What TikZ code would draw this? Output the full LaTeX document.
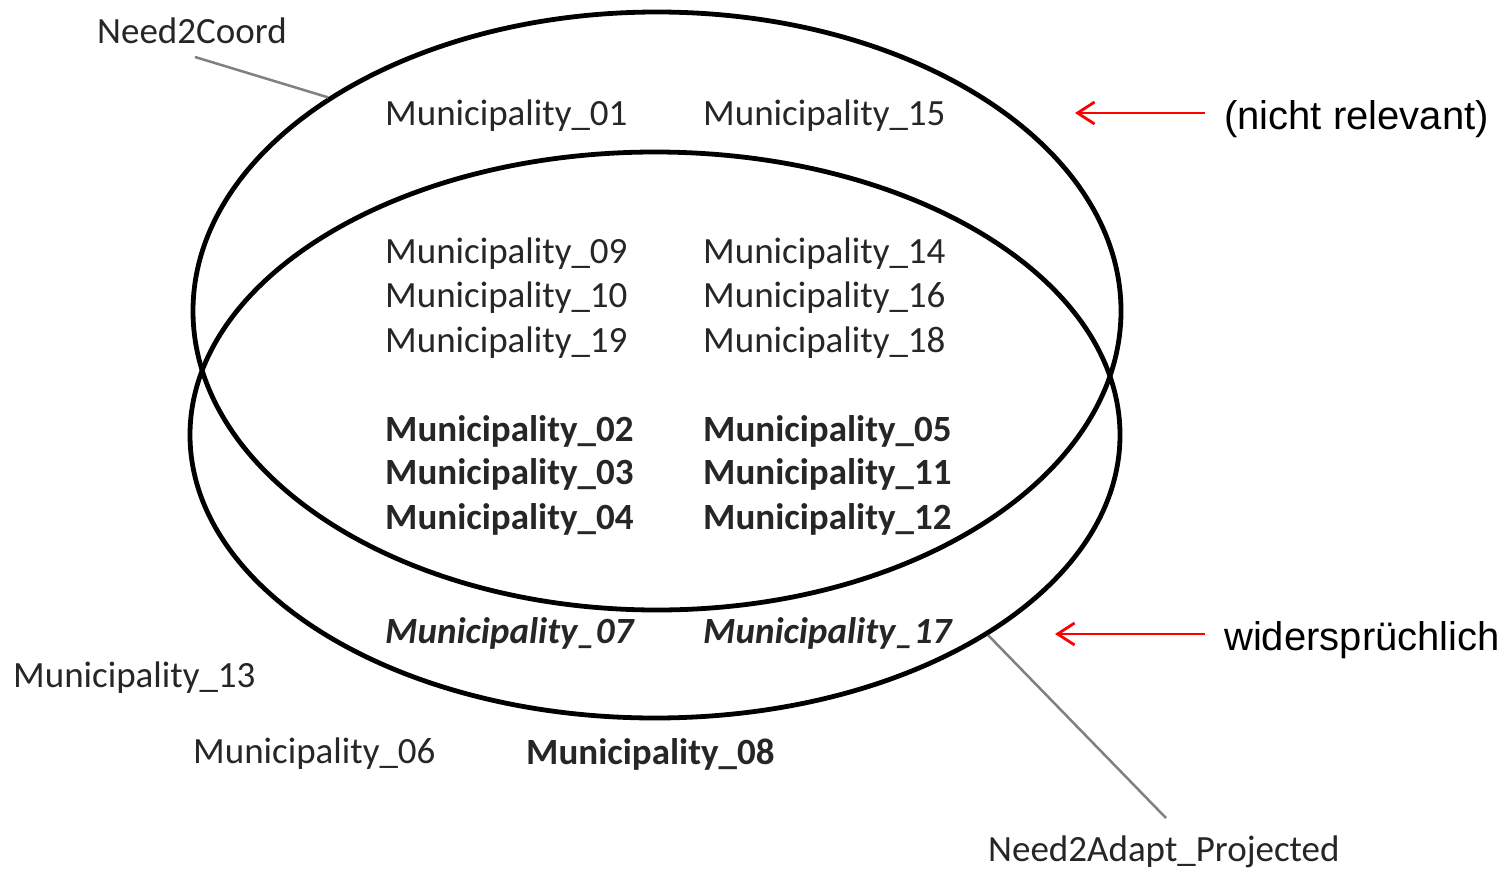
\documentclass[tikz,border=0pt]{standalone}
\usepackage{fontspec}
\setmainfont{Carlito}
\newfontfamily\arialfont{Liberation Sans}
\usetikzlibrary{shapes.geometric,arrows.meta}
\begin{document}
\begin{tikzpicture}[x=1pt,y=-1pt,
  muni/.style={anchor=base west,inner sep=0pt,font=\fontsize{37}{40}\selectfont,text=black!85},
  mbold/.style={muni,font=\fontsize{37}{40}\selectfont\bfseries},
  mbi/.style={muni,font=\fontsize{37}{40}\selectfont\bfseries\itshape},
  setell/.style={draw=black,line width=4.8pt,ellipse,inner sep=0pt},
  leader/.style={draw=black!50,line width=2.5pt},
  redarrow/.style={draw=red,line width=2.8pt,-{Straight Barb[length=17pt,width=22pt,line width=2.8pt]}},
  note/.style={anchor=base west,inner sep=0pt,font=\arialfont\fontsize{40}{44}\selectfont}]
\useasboundingbox (0,0) rectangle (1506,870);
\fill[white] (0,0) rectangle (1506,870);

\node[setell,minimum width=928pt,minimum height=598pt] (coord) at (657,311) {};
\node[setell,minimum width=930pt,minimum height=566pt] (adapt) at (655,435) {};

\node[muni] (lcoord) at (97,43) {Need2Coord};
\node[muni] (ladapt) at (988,861) {Need2Adapt\_Projected};
\coordinate (c1) at (195,57);
\coordinate (c2) at (1166,818);
\draw[leader] (c1) -- (coord.147);
\draw[leader] (c2) -- (adapt.-31.5);

\node[muni] (m01) at (385,125) {Municipality\_01};
\node[muni] (m15) at (703,125) {Municipality\_15};
\node[muni] (m09) at (385,263) {Municipality\_09};
\node[muni] (m14) at (703,263) {Municipality\_14};
\node[muni] (m10) at (385,307) {Municipality\_10};
\node[muni] (m16) at (703,307) {Municipality\_16};
\node[muni] (m19) at (385,352) {Municipality\_19};
\node[muni] (m18) at (703,352) {Municipality\_18};
\node[mbold] (m02) at (385,441) {Municipality\_02};
\node[mbold] (m05) at (703,441) {Municipality\_05};
\node[mbold] (m03) at (385,484) {Municipality\_03};
\node[mbold] (m11) at (703,484) {Municipality\_11};
\node[mbold] (m04) at (385,529) {Municipality\_04};
\node[mbold] (m12) at (703,529) {Municipality\_12};
\node[mbi] (m07) at (385,643) {Municipality\_07};
\node[mbi] (m17) at (703,643) {Municipality\_17};
\node[muni] (m13) at (13,687) {Municipality\_13};
\node[muni] (m06) at (193,763) {Municipality\_06};
\node[mbold] (m08) at (526,764) {Municipality\_08};

\node[note] (nr) at (1224,129) {(nicht relevant)};
\node[note] (wd) at (1224,650) {widersprüchlich};
\coordinate (a1s) at (1205,113);
\coordinate (a1e) at (1075,113);
\coordinate (a2s) at (1205,634);
\coordinate (a2e) at (1055,634);
\draw[redarrow] (a1s) -- (a1e);
\draw[redarrow] (a2s) -- (a2e);
\end{tikzpicture}
\end{document}
